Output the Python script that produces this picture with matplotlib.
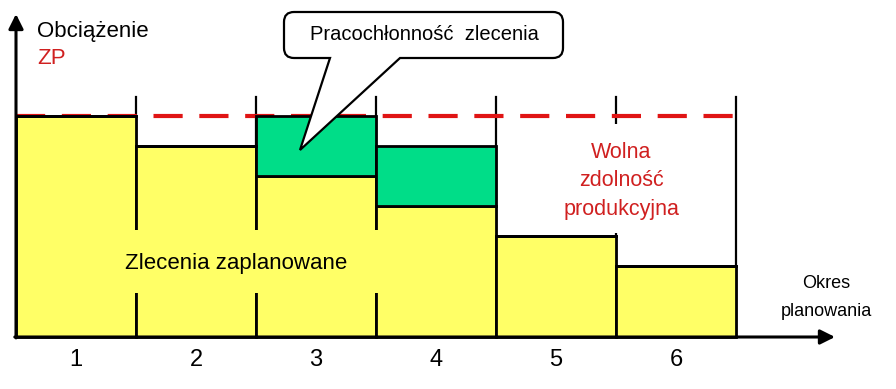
import numpy as np
import matplotlib
matplotlib.use("Agg")
import matplotlib.pyplot as plt
from matplotlib.patches import Rectangle, PathPatch
from matplotlib.path import Path

plt.rcParams['font.family'] = ['Liberation Sans', 'DejaVu Sans']

# dane (jednostki umowne)
periods = [1, 2, 3, 4, 5, 6]
period_labels = ['1', '2', '3', '4', '5', '6']
planned = [7.37, 6.37, 5.37, 4.37, 3.37, 2.37]
new_order = [0, 0, 2.0, 2.0, 0, 0]
capacity = 7.37

YELLOW = '#FFFF66'
GREEN = '#00DD88'
RED_LINE = '#E01414'
RED_TEXT = '#D02020'

W, H = 896, 389
X0, Y0 = 16, 337      # polozenie poczatku ukladu (piksele)
SX, SY = 120, 30      # pikseli na jednostke


def px(x, y):
    # piksele obrazka -> wspolrzedne danych
    return (x - X0) / SX, (Y0 - y) / SY


fig = plt.figure(figsize=(W / 100, H / 100), dpi=100)
ax = fig.add_axes([0, 0, 1, 1])
ax.set_xlim(px(0, 0)[0], px(W, 0)[0])
ax.set_ylim(px(0, H)[1], px(0, 0)[1])
ax.axis('off')

left = np.array(periods) - 1

# linie podzialu okresow
for x in left[1:].tolist() + [len(periods)]:
    ax.plot([x, x], [0, 8.0], color='black', lw=1.6, zorder=1)

# linia zdolnosci produkcyjnej
ax.plot([0, len(periods)], [capacity, capacity], color=RED_LINE, lw=3,
        dashes=(7, 4), zorder=2)

# zlecenia zaplanowane + nowe zlecenie
ax.bar(left, planned, width=1, align='edge', color=YELLOW,
       edgecolor='black', linewidth=2, zorder=3)
ax.bar(left, new_order, width=1, align='edge', bottom=planned,
       color=GREEN, edgecolor='black', linewidth=2, zorder=3)
for x, h, b in zip(left, new_order, planned):
    if h == 0:
        ax.plot([x, x + 1], [b, b], color='black', lw=2, zorder=3)

# tla pod napisami
x1, y1 = px(110, 293)
x2, y2 = px(390, 230)
ax.add_patch(Rectangle((x1, y1), x2 - x1, y2 - y1, facecolor=YELLOW,
                       edgecolor='none', zorder=4))
x1, y1 = px(555, 233)
x2, y2 = px(690, 124)
ax.add_patch(Rectangle((x1, y1), x2 - x1, y2 - y1, facecolor='white',
                       edgecolor='none', zorder=4))

# osie ze strzalkami
arrow = dict(arrowstyle='-|>', lw=2.2, color='black', mutation_scale=22,
             shrinkA=0, shrinkB=0)
ax.annotate('', xy=px(835, Y0), xytext=(-0.01, 0), arrowprops=arrow, zorder=6)
ax.annotate('', xy=px(X0, 14), xytext=(0, -0.03), arrowprops=arrow, zorder=6)

# opisy
ax.text(*px(37, 31), 'Obciążenie', fontsize=16, ha='left', va='center', zorder=6)
ax.text(*px(37, 59), 'ZP', fontsize=16, color=RED_TEXT, ha='left', va='center', zorder=6)
ax.text(*px(236, 264), 'Zlecenia zaplanowane', fontsize=16, ha='center',
        va='center', zorder=5)
for txt, y in zip(['Wolna', 'zdolność', 'produkcyjna'], [153, 181, 209]):
    ax.text(*px(621, y), txt, fontsize=15.5, color=RED_TEXT, ha='center',
            va='center', zorder=5)
ax.text(*px(826, 284), 'Okres', fontsize=13, ha='center', va='center')
ax.text(*px(826, 311), 'planowania', fontsize=13, ha='center', va='center')

for p, lab in zip(periods, period_labels):
    ax.text(p - 0.5, px(0, 360)[1], lab, fontsize=17, ha='center', va='center')

# dymek "Pracochlonnosc zlecenia"
L, R, T, B, r = 284, 563, 12, 58, 10
verts_px = [(L + r, T), (R - r, T), (R, T), (R, T + r), (R, B - r), (R, B),
            (R - r, B), (400, B), (300, 150), (330, B), (L + r, B), (L, B),
            (L, B - r), (L, T + r), (L, T), (L + r, T), (L + r, T)]
codes = [Path.MOVETO, Path.LINETO, Path.CURVE3, Path.CURVE3, Path.LINETO,
         Path.CURVE3, Path.CURVE3, Path.LINETO, Path.LINETO, Path.LINETO,
         Path.LINETO, Path.CURVE3, Path.CURVE3, Path.LINETO, Path.CURVE3,
         Path.CURVE3, Path.CLOSEPOLY]
callout = Path([px(x, y) for x, y in verts_px], codes)
ax.add_patch(PathPatch(callout, facecolor='white', edgecolor='black',
                       lw=1.6, zorder=7))
ax.text(*px(424, 35), 'Pracochłonność  zlecenia', fontsize=14.5, ha='center',
        va='center', zorder=8)

fig.savefig('out.png', dpi=100)
